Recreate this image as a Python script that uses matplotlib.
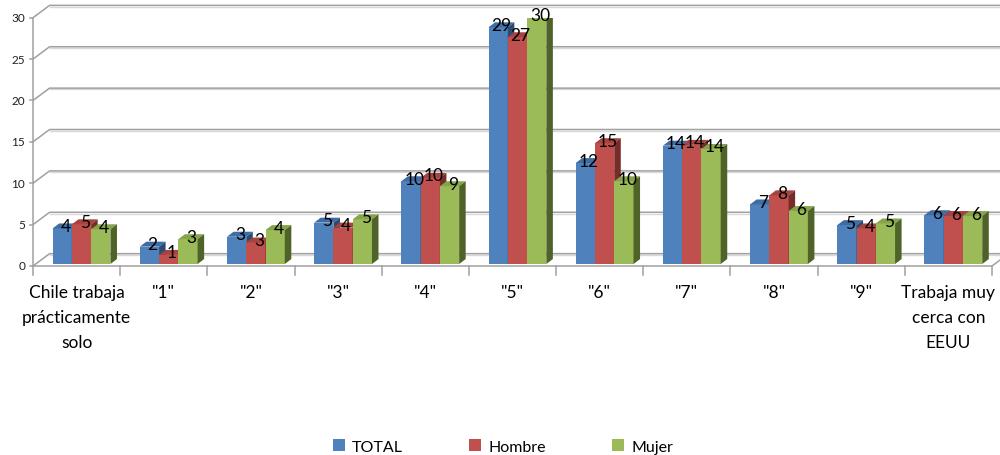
import numpy as np
import matplotlib
matplotlib.use('Agg')
import matplotlib.pyplot as plt
from matplotlib.patches import Polygon, Patch

categories = ['Chile trabaja\nprácticamente\nsolo', '"1"', '"2"', '"3"', '"4"', '"5"',
              '"6"', '"7"', '"8"', '"9"', 'Trabaja muy\ncerca con\nEEUU']
series_names = ['TOTAL', 'Hombre', 'Mujer']
total = [4.3, 2.1, 3.3, 5.0, 10.0, 28.6, 12.2, 14.3, 7.2, 4.7, 5.9]
hombre = [4.8, 1.1, 2.6, 4.4, 10.4, 27.4, 14.6, 14.4, 8.3, 4.3, 5.8]
mujer = [4.2, 3.0, 4.1, 5.4, 9.4, 29.8, 10.0, 13.9, 6.4, 4.9, 5.8]
y_ticks = [0, 5, 10, 15, 20, 25, 30]

front_colors = ['#4F81BD', '#C0504D', '#9BBB59']
top_colors = ['#3F6DA3', '#A7423F', '#86A54A']
side_colors = ['#2C4B72', '#772C2A', '#4F6228']

# 3d look: offsets in data units
WALL_DX, WALL_DY = 0.19, 1.49
BAR_DX, BAR_DY = 0.075, 0.6
BAR_BASE = 0.24
BAR_W = 0.221
GROUP_LEFT = 0.225
GRID = '#a0a0a0'

fig = plt.figure(figsize=(10, 4.56), dpi=100)
ax = fig.add_axes([0.033, (456 - 267) / 456, 0.959, 248.3 / 456])
ax.set_xlim(0, len(categories))
ax.set_ylim(0, 30)
ax.axis('off')

n = len(categories)
font = ['Lato', 'DejaVu Sans']

# back wall gridlines + left wall diagonals
for v in y_ticks:
    ax.plot([0, WALL_DX, n + WALL_DX], [v, v + WALL_DY, v + WALL_DY],
            color=GRID, lw=1.1, zorder=1, clip_on=False, solid_capstyle='butt')
    ax.plot([WALL_DX, n + WALL_DX], [v + WALL_DY - 0.15, v + WALL_DY - 0.15],
            color='#d8d8d8', lw=1.0, zorder=0.9, clip_on=False)
    ax.plot([-0.035, 0], [v, v], color=GRID, lw=1.1, clip_on=False, zorder=1)
    ax.text(-0.09, v, str(v), ha='right', va='center', fontsize=8.5,
            color='#202020', family=font)

# front y axis and floor
ax.plot([0, 0], [0, 30], color=GRID, lw=1.1, clip_on=False, zorder=1)
ax.plot([0, n, n + WALL_DX * 0.55], [0, 0, WALL_DY * 0.55],
        color=GRID, lw=1.1, clip_on=False, zorder=1)
for i in range(n + 1):
    ax.plot([i, i], [0, -1.1], color=GRID, lw=1.1, clip_on=False, zorder=1)

# category labels
for i, lab in enumerate(categories):
    ax.text(i + 0.5, -2.2, lab, ha='center', va='top', fontsize=12.5,
            linespacing=1.68, color='#000000', family=font)

# bars
data = [total, hombre, mujer]
x = np.arange(n)
for s, vals in enumerate(data):
    lefts = x + GROUP_LEFT + s * BAR_W
    ax.bar(lefts, vals, width=BAR_W, bottom=BAR_BASE, align='edge',
           color=front_colors[s], linewidth=0, zorder=3 + s)
    for xl, v in zip(lefts, vals):
        top = BAR_BASE + v
        ax.add_patch(Polygon([[xl, top], [xl + BAR_W, top],
                              [xl + BAR_W + BAR_DX, top + BAR_DY], [xl + BAR_DX, top + BAR_DY]],
                             closed=True, facecolor=top_colors[s], lw=0, zorder=3 + s))
        ax.add_patch(Polygon([[xl + BAR_W, BAR_BASE], [xl + BAR_W + BAR_DX, BAR_BASE + BAR_DY],
                              [xl + BAR_W + BAR_DX, top + BAR_DY], [xl + BAR_W, top]],
                             closed=True, facecolor=side_colors[s], lw=0, zorder=3 + s))
for s, vals in enumerate(data):
    lefts = x + GROUP_LEFT + s * BAR_W
    for xl, v in zip(lefts, vals):
        ax.text(xl + BAR_W / 2 + BAR_DX / 2, BAR_BASE + v + BAR_DY / 2, '{:.0f}'.format(v),
                ha='center', va='center', fontsize=12.5, color='#000000',
                family=font, zorder=10)

handles = [Patch(facecolor=c, edgecolor='none') for c in front_colors]
fig.legend(handles, series_names, loc='center', bbox_to_anchor=(0.503, 0.019),
           ncol=3, frameon=False, handlelength=0.75, handleheight=0.75,
           handletextpad=0.45, columnspacing=4.15,
           prop={'family': font, 'size': 11.5})

fig.savefig('out.png', dpi=100)
